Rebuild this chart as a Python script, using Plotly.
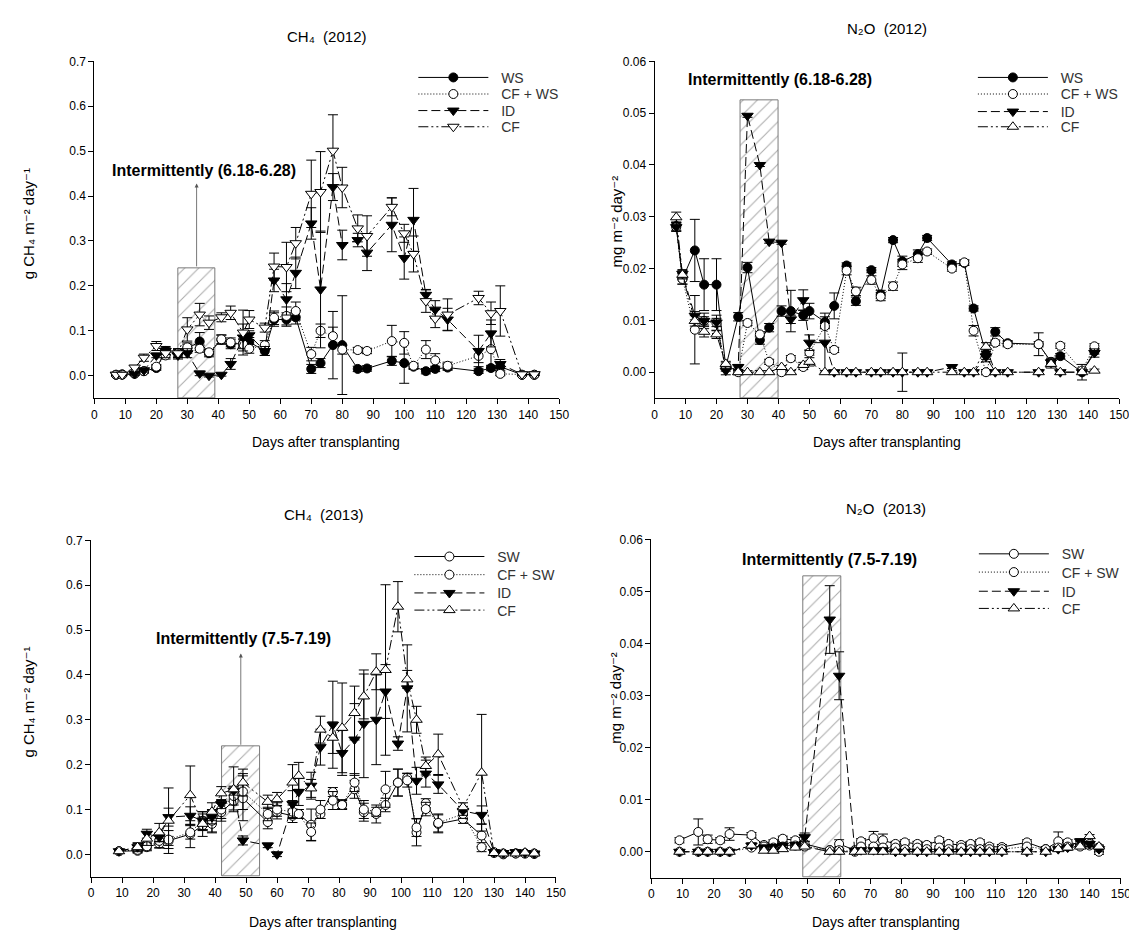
import plotly.graph_objects as go

W, H = 1137, 934
FONT = "Arial, 'Liberation Sans', 'DejaVu Sans', Helvetica, sans-serif"

# ------------------------------------------------------------------ data
# ---- 2012 sampling days (days after transplanting)
days_12 = [7, 9, 13, 16, 20, 23, 27, 30, 34, 37, 41, 44, 48, 50, 55, 58, 62, 65, 70, 73,
           77, 80, 85, 88, 96, 100, 103, 107, 110, 114, 124, 128, 131, 138, 142]

# CH4 2012 (g CH4 m-2 day-1)
ch4_12_ws = [0.002, 0.003, 0.004, 0.010, 0.017, 0.055, 0.050, 0.060, 0.076, 0.050,
             0.080, 0.070, 0.072, 0.075, 0.055, 0.125, 0.125, 0.130, 0.015, 0.028,
             0.068, 0.068, 0.015, 0.016, 0.033, 0.028, 0.020, 0.010, 0.015, 0.018,
             0.010, 0.017, 0.020, 0.002, 0.002]
ch4_12_cfws = [0.002, 0.002, 0.005, 0.010, 0.020, 0.045, 0.050, 0.063, 0.060, 0.052,
               0.081, 0.074, 0.070, 0.060, 0.068, 0.129, 0.133, 0.144, 0.048, 0.100,
               0.088, 0.058, 0.057, 0.055, 0.077, 0.073, 0.022, 0.058, 0.034, 0.022,
               0.044, 0.059, 0.004, 0.002, 0.002]
ch4_12_id = [0.002, 0.002, 0.004, 0.012, 0.045, 0.055, 0.045, 0.050, 0.005, 0.000,
             0.002, 0.026, 0.085, 0.090, 0.055, 0.212, 0.170, 0.229, 0.339, 0.192,
             0.420, 0.291, 0.302, 0.274, 0.336, 0.262, 0.347, 0.180, 0.147, 0.125,
             0.055, 0.094, 0.026, 0.003, 0.003]
ch4_12_cf = [0.002, 0.002, 0.018, 0.040, 0.066, 0.050, 0.050, 0.103, 0.136, 0.118,
             0.130, 0.140, 0.096, 0.125, 0.107, 0.243, 0.242, 0.295, 0.405, 0.409,
             0.501, 0.419, 0.328, 0.311, 0.376, 0.317, 0.271, 0.166, 0.127, 0.136,
             0.173, 0.139, 0.144, 0.003, 0.003]
ch4_12_ws_err = [0.002, 0.002, 0.003, 0.004, 0.005, 0.010, 0.010, 0.010, 0.020, 0.008,
                 0.010, 0.010, 0.010, 0.010, 0.010, 0.015, 0.015, 0.015, 0.010, 0.010,
                 0.075, 0.110, 0.006, 0.006, 0.010, 0.045, 0.006, 0.006, 0.006, 0.006,
                 0.005, 0.006, 0.008, 0.002, 0.002]
ch4_12_cfws_err = [0.002, 0.002, 0.003, 0.004, 0.005, 0.008, 0.008, 0.010, 0.008, 0.006,
                   0.010, 0.010, 0.010, 0.010, 0.010, 0.015, 0.020, 0.020, 0.015, 0.015,
                   0.020, 0.010, 0.006, 0.006, 0.035, 0.025, 0.006, 0.020, 0.015, 0.008,
                   0.015, 0.040, 0.004, 0.002, 0.002]
ch4_12_id_err = [0.002, 0.002, 0.003, 0.004, 0.005, 0.008, 0.008, 0.010, 0.005, 0.003,
                 0.003, 0.012, 0.030, 0.010, 0.010, 0.025, 0.035, 0.035, 0.035, 0.130,
                 0.030, 0.033, 0.015, 0.040, 0.060, 0.047, 0.070, 0.012, 0.020, 0.025,
                 0.035, 0.030, 0.010, 0.002, 0.002]
ch4_12_cf_err = [0.002, 0.002, 0.005, 0.008, 0.010, 0.010, 0.010, 0.026, 0.025, 0.015,
                 0.010, 0.015, 0.050, 0.020, 0.010, 0.030, 0.055, 0.035, 0.075, 0.090,
                 0.080, 0.045, 0.030, 0.045, 0.020, 0.020, 0.040, 0.025, 0.020, 0.035,
                 0.015, 0.025, 0.056, 0.002, 0.002]

# N2O 2012 (mg m-2 day-1)
n2o_12_ws = [0.0282, 0.0180, 0.0235, 0.0169, 0.0169, 0.0010, 0.0107, 0.0202, 0.0062, 0.0086,
             0.0118, 0.0118, 0.0110, 0.0118, 0.0097, 0.0128, 0.0206, 0.0137, 0.0197, 0.0150,
             0.0255, 0.0214, 0.0228, 0.0259, 0.0208, 0.0211, 0.0123, 0.0035, 0.0078, 0.0056,
             0.0054, 0.0020, 0.0031, 0.0000, 0.0040]
n2o_12_cfws = [0.0280, 0.0180, 0.0082, 0.0099, 0.0095, 0.0010, 0.0000, 0.0095, 0.0073, 0.0020,
               0.0000, 0.0027, 0.0010, 0.0038, 0.0089, 0.0043, 0.0196, 0.0156, 0.0178, 0.0146,
               0.0166, 0.0208, 0.0220, 0.0233, 0.0200, 0.0212, 0.0080, 0.0000, 0.0057, 0.0054,
               0.0054, 0.0019, 0.0051, 0.0003, 0.0050]
n2o_12_id = [0.0280, 0.0190, 0.0109, 0.0099, 0.0096, 0.0003, 0.0010, 0.0495, 0.0400, 0.0252,
             0.0250, 0.0102, 0.0139, 0.0057, 0.0057, 0.0000, 0.0000, 0.0000, 0.0000, 0.0000,
             0.0000, 0.0000, 0.0000, 0.0000, 0.0010, 0.0000, 0.0000, 0.0030, 0.0000, 0.0000,
             0.0000, 0.0019, 0.0000, 0.0000, 0.0037]
n2o_12_cf = [0.0299, 0.0188, 0.0099, 0.0078, 0.0073, 0.0016, 0.0000, 0.0000, 0.0000, 0.0000,
             0.0010, 0.0000, 0.0014, 0.0020, 0.0000, 0.0000, 0.0000, 0.0000, 0.0000, 0.0000,
             0.0000, 0.0000, 0.0000, 0.0000, 0.0000, 0.0000, 0.0000, 0.0049, 0.0000, 0.0000,
             0.0000, 0.0016, 0.0000, 0.0000, 0.0003]
n2o_12_ws_err = [0.0008, 0.0010, 0.0060, 0.0050, 0.0050, 0.0008, 0.0008, 0.0010, 0.0008, 0.0008,
                 0.0010, 0.0040, 0.0010, 0.0015, 0.0010, 0.0025, 0.0005, 0.0008, 0.0005, 0.0008,
                 0.0005, 0.0010, 0.0008, 0.0005, 0.0005, 0.0005, 0.0005, 0.0010, 0.0008, 0.0005,
                 0.0005, 0.0005, 0.0005, 0.0015, 0.0005]
n2o_12_cfws_err = [0.0008, 0.0010, 0.0066, 0.0015, 0.0015, 0.0005, 0.0005, 0.0005, 0.0005, 0.0005,
                   0.0005, 0.0005, 0.0005, 0.0005, 0.0005, 0.0005, 0.0008, 0.0008, 0.0008, 0.0008,
                   0.0008, 0.0010, 0.0008, 0.0005, 0.0005, 0.0005, 0.0010, 0.0005, 0.0005, 0.0005,
                   0.0022, 0.0005, 0.0005, 0.0005, 0.0005]
n2o_12_id_err = [0.0008, 0.0008, 0.0008, 0.0008, 0.0008, 0.0008, 0.0005, 0.0003, 0.0003, 0.0003,
                 0.0003, 0.0008, 0.0020, 0.0015, 0.0057, 0.0003, 0.0003, 0.0003, 0.0003, 0.0003,
                 0.0003, 0.0003, 0.0003, 0.0003, 0.0003, 0.0003, 0.0003, 0.0010, 0.0003, 0.0003,
                 0.0003, 0.0008, 0.0003, 0.0003, 0.0008]
n2o_12_cf_err = [0.0010, 0.0008, 0.0010, 0.0010, 0.0008, 0.0005, 0.0003, 0.0003, 0.0003, 0.0003,
                 0.0003, 0.0003, 0.0005, 0.0008, 0.0003, 0.0003, 0.0003, 0.0003, 0.0003, 0.0003,
                 0.0003, 0.0037, 0.0003, 0.0003, 0.0003, 0.0003, 0.0003, 0.0008, 0.0003, 0.0003,
                 0.0003, 0.0008, 0.0003, 0.0003, 0.0003]

# ---- 2013 sampling days
days_13 = [9, 15, 18, 22, 25, 32, 36, 39, 42, 46, 49, 57, 60, 65, 67, 71, 74, 78, 81, 85,
           88, 92, 95, 99, 102, 105, 108, 112, 120, 126, 130, 133, 137, 140, 143]

# CH4 2013
ch4_13_sw = [0.007, 0.008, 0.016, 0.024, 0.030, 0.045, 0.065, 0.068, 0.094, 0.119,
             0.125, 0.072, 0.094, 0.086, 0.090, 0.066, 0.090, 0.139, 0.112, 0.145,
             0.094, 0.090, 0.110, 0.160, 0.171, 0.049, 0.114, 0.068, 0.079, 0.042,
             0.003, 0.000, 0.002, 0.002, 0.001]
ch4_13_cfsw = [0.007, 0.010, 0.018, 0.030, 0.033, 0.049, 0.075, 0.075, 0.100, 0.130,
               0.140, 0.090, 0.100, 0.095, 0.090, 0.050, 0.100, 0.120, 0.110, 0.160,
               0.100, 0.095, 0.145, 0.160, 0.165, 0.060, 0.101, 0.070, 0.090, 0.016,
               0.005, 0.002, 0.002, 0.002, 0.002]
ch4_13_id = [0.007, 0.016, 0.046, 0.038, 0.083, 0.086, 0.075, 0.083, 0.112, 0.142,
             0.031, 0.020, 0.000, 0.112, 0.139, 0.153, 0.239, 0.289, 0.226, 0.256,
             0.291, 0.300, 0.363, 0.247, 0.370, 0.164, 0.180, 0.156, 0.097, 0.088,
             0.005, 0.003, 0.005, 0.003, 0.002]
ch4_13_cf = [0.007, 0.016, 0.035, 0.049, 0.075, 0.132, 0.068, 0.095, 0.136, 0.145,
             0.160, 0.117, 0.123, 0.160, 0.175, 0.147, 0.278, 0.260, 0.282, 0.315,
             0.352, 0.407, 0.411, 0.552, 0.390, 0.300, 0.197, 0.223, 0.105, 0.182,
             0.003, 0.002, 0.002, 0.004, 0.002]
ch4_13_sw_err = [0.003, 0.005, 0.008, 0.010, 0.010, 0.030, 0.025, 0.020, 0.020, 0.020,
                 0.050, 0.015, 0.015, 0.015, 0.010, 0.035, 0.010, 0.010, 0.010, 0.020,
                 0.020, 0.020, 0.015, 0.030, 0.010, 0.030, 0.010, 0.020, 0.010, 0.025,
                 0.002, 0.002, 0.002, 0.002, 0.002]
ch4_13_cfsw_err = [0.003, 0.005, 0.008, 0.015, 0.020, 0.015, 0.020, 0.025, 0.020, 0.020,
                   0.040, 0.015, 0.015, 0.015, 0.010, 0.020, 0.020, 0.020, 0.010, 0.020,
                   0.020, 0.010, 0.040, 0.030, 0.015, 0.020, 0.015, 0.020, 0.010, 0.010,
                   0.002, 0.002, 0.002, 0.002, 0.002]
ch4_13_id_err = [0.003, 0.008, 0.010, 0.010, 0.020, 0.020, 0.020, 0.015, 0.010, 0.010,
                 0.010, 0.005, 0.005, 0.030, 0.030, 0.030, 0.040, 0.097, 0.050, 0.080,
                 0.120, 0.100, 0.060, 0.015, 0.097, 0.030, 0.030, 0.020, 0.010, 0.020,
                 0.002, 0.002, 0.002, 0.002, 0.002]
ch4_13_cf_err = [0.003, 0.010, 0.015, 0.020, 0.073, 0.065, 0.015, 0.020, 0.015, 0.050,
                 0.030, 0.015, 0.015, 0.040, 0.030, 0.020, 0.030, 0.035, 0.100, 0.060,
                 0.050, 0.040, 0.190, 0.056, 0.020, 0.030, 0.020, 0.045, 0.010, 0.130,
                 0.002, 0.002, 0.002, 0.002, 0.002]

# N2O 2013
n2o_13_sw = [0.0022, 0.0038, 0.0024, 0.0022, 0.0034, 0.0032, 0.0013, 0.0018, 0.0025, 0.0022,
             0.0015, 0.0003, 0.0015, 0.0003, 0.0020, 0.0026, 0.0022, 0.0015, 0.0018, 0.0015,
             0.0013, 0.0022, 0.0015, 0.0013, 0.0015, 0.0018, 0.0010, 0.0009, 0.0018, 0.0005,
             0.0020, 0.0018, 0.0015, 0.0012, 0.0000]
n2o_13_cfsw = [0.0000, 0.0000, 0.0000, 0.0000, 0.0000, 0.0008, 0.0010, 0.0008, 0.0010, 0.0012,
               0.0010, 0.0003, 0.0003, 0.0000, 0.0010, 0.0010, 0.0008, 0.0008, 0.0005, 0.0008,
               0.0005, 0.0008, 0.0005, 0.0008, 0.0005, 0.0005, 0.0005, 0.0005, 0.0010, 0.0005,
               0.0008, 0.0010, 0.0010, 0.0015, 0.0008]
n2o_13_id = [0.0000, 0.0000, 0.0000, 0.0000, 0.0000, 0.0012, 0.0008, 0.0009, 0.0012, 0.0013,
             0.0028, 0.0446, 0.0338, 0.0002, 0.0003, 0.0003, 0.0003, 0.0000, 0.0000, 0.0000,
             0.0000, 0.0000, 0.0000, 0.0000, 0.0000, 0.0000, 0.0000, 0.0000, 0.0000, 0.0000,
             0.0005, 0.0008, 0.0020, 0.0015, 0.0005]
n2o_13_cf = [0.0000, 0.0000, 0.0000, 0.0000, 0.0000, 0.0012, 0.0002, 0.0002, 0.0005, 0.0008,
             0.0010, 0.0000, 0.0000, 0.0000, 0.0000, 0.0000, 0.0000, 0.0000, 0.0000, 0.0000,
             0.0000, 0.0000, 0.0000, 0.0000, 0.0000, 0.0000, 0.0000, 0.0000, 0.0000, 0.0000,
             0.0005, 0.0008, 0.0010, 0.0030, 0.0010]
n2o_13_sw_err = [0.0005, 0.0025, 0.0008, 0.0005, 0.0012, 0.0005, 0.0005, 0.0005, 0.0005, 0.0005,
                 0.0005, 0.0003, 0.0008, 0.0003, 0.0005, 0.0013, 0.0012, 0.0005, 0.0005, 0.0005,
                 0.0005, 0.0005, 0.0005, 0.0005, 0.0005, 0.0005, 0.0005, 0.0005, 0.0005, 0.0005,
                 0.0018, 0.0005, 0.0005, 0.0005, 0.0005]
n2o_13_cfsw_err = [0.0003] * 35
n2o_13_id_err = [0.0003, 0.0003, 0.0003, 0.0003, 0.0003, 0.0005, 0.0005, 0.0005, 0.0005, 0.0005,
                 0.0008, 0.0065, 0.0046, 0.0003, 0.0003, 0.0003, 0.0003, 0.0003, 0.0003, 0.0003,
                 0.0003, 0.0003, 0.0003, 0.0003, 0.0003, 0.0003, 0.0003, 0.0003, 0.0003, 0.0003,
                 0.0003, 0.0005, 0.0005, 0.0005, 0.0005]
n2o_13_cf_err = [0.0003] * 35

# intermittent irrigation periods: [start day, end day, box top]
period_ch4_12 = [27.0, 39.0, 0.24]
period_n2o_12 = [27.7, 39.9, 0.0524]
period_ch4_13 = [42.2, 54.4, 0.241]
period_n2o_13 = [48.6, 60.7, 0.0529]

x_ticks = list(range(0, 151, 10))

# text labels
TITLE_CH4_12 = "CH\u2084  (2012)"
TITLE_N2O_12 = "N\u2082O  (2012)"
TITLE_CH4_13 = "CH\u2084  (2013)"
TITLE_N2O_13 = "N\u2082O  (2013)"
YLAB_CH4 = "g CH\u2084 m\u207b\u00b2 day\u207b\u00b9"
YLAB_N2O = "mg m\u207b\u00b2 day\u207b\u00b2"
XLAB = "Days after transplanting"

# ------------------------------------------------------------------ layout helpers
def px_x(p):
    return p / W


def px_y(p):
    return 1 - p / H


fig = go.Figure()

LINE_DASH = {
    "solid": "solid",
    "dot": "1px,2px",
    "dash": "9px,4px",
    "dashdotdot": "10px,3px,2px,3px,2px,3px",
}

NBSP = "\u00a0\u00a0"   # small gap between legend line sample and label
legend_defs = {}


def leg(xp, yp):
    return dict(x=px_x(xp), y=px_y(yp), xanchor="left", yanchor="middle",
                bgcolor="rgba(0,0,0,0)", borderwidth=0, itemwidth=70,
                tracegroupgap=0, font=dict(size=14, color="#333333", family=FONT))


def add_period(xa, ya, period, ybase):
    start, end, top = period
    fig.add_trace(go.Bar(
        x=[(start + end) / 2], y=[top - ybase], base=[ybase], width=[end - start],
        marker=dict(color="white", line=dict(color="#7a7a7a", width=1),
                    pattern=dict(shape="/", fgcolor="#555555", bgcolor="white",
                                 size=10, solidity=0.1)),
        showlegend=False, hoverinfo="skip", xaxis=xa, yaxis=ya))


def add_series(xa, ya, legpos, days, vals, errs, name, symbol, fill, dash, size=9):
    lid = "legend" if not legend_defs else "legend%d" % (len(legend_defs) + 1)
    legend_defs[lid] = leg(*legpos)
    fig.add_trace(go.Scatter(
        x=days, y=vals, mode="lines+markers", name=NBSP + name,
        line=dict(color="black", width=1, dash=LINE_DASH[dash]),
        marker=dict(symbol=symbol, size=size, color=fill,
                    line=dict(color="black", width=1)),
        error_y=dict(type="data", array=errs, visible=True, color="black",
                     thickness=1, width=5),
        xaxis=xa, yaxis=ya, legend=lid, cliponaxis=False))


# legend row positions (pixels): left edge of entry, row centre
LX_TL, LX_TR, LX_BL, LX_BR = 407, 973, 403, 974
ROWS_TOP = [63.3, 80.0, 96.7, 113.0]
ROWS_BL = [546.0, 564.3, 582.7, 600.0]
ROWS_BR = [543.3, 561.7, 581.0, 598.3]

# ---- CH4 2012
add_period("x", "y", period_ch4_12, -0.05)
add_series("x", "y", (LX_TL, ROWS_TOP[0]), days_12, ch4_12_ws, ch4_12_ws_err, "WS", "circle", "black", "solid")
add_series("x", "y", (LX_TL, ROWS_TOP[1]), days_12, ch4_12_cfws, ch4_12_cfws_err, "CF + WS", "circle", "white", "dot")
add_series("x", "y", (LX_TL, ROWS_TOP[2]), days_12, ch4_12_id, ch4_12_id_err, "ID", "triangle-down", "black", "dash", 10)
add_series("x", "y", (LX_TL, ROWS_TOP[3]), days_12, ch4_12_cf, ch4_12_cf_err, "CF", "triangle-down", "white", "dashdotdot", 10)

# ---- N2O 2012
add_period("x2", "y2", period_n2o_12, -0.005)
add_series("x2", "y2", (LX_TR, ROWS_TOP[0]), days_12, n2o_12_ws, n2o_12_ws_err, "WS", "circle", "black", "solid")
add_series("x2", "y2", (LX_TR, ROWS_TOP[1]), days_12, n2o_12_cfws, n2o_12_cfws_err, "CF + WS", "circle", "white", "dot")
add_series("x2", "y2", (LX_TR, ROWS_TOP[2] + 1), days_12, n2o_12_id, n2o_12_id_err, "ID", "triangle-down", "black", "dash", 10)
add_series("x2", "y2", (LX_TR, ROWS_TOP[3]), days_12, n2o_12_cf, n2o_12_cf_err, "CF", "triangle-up", "white", "dashdotdot", 10)

# ---- CH4 2013
add_period("x3", "y3", period_ch4_13, -0.05)
add_series("x3", "y3", (LX_BL, ROWS_BL[0]), days_13, ch4_13_sw, ch4_13_sw_err, "SW", "circle", "white", "solid")
add_series("x3", "y3", (LX_BL, ROWS_BL[1]), days_13, ch4_13_cfsw, ch4_13_cfsw_err, "CF + SW", "circle", "white", "dot")
add_series("x3", "y3", (LX_BL, ROWS_BL[2]), days_13, ch4_13_id, ch4_13_id_err, "ID", "triangle-down", "black", "dash", 10)
add_series("x3", "y3", (LX_BL, ROWS_BL[3]), days_13, ch4_13_cf, ch4_13_cf_err, "CF", "triangle-up", "white", "dashdotdot", 10)

# ---- N2O 2013
add_period("x4", "y4", period_n2o_13, -0.005)
add_series("x4", "y4", (LX_BR, ROWS_BR[0]), days_13, n2o_13_sw, n2o_13_sw_err, "SW", "circle", "white", "solid")
add_series("x4", "y4", (LX_BR, ROWS_BR[1]), days_13, n2o_13_cfsw, n2o_13_cfsw_err, "CF + SW", "circle", "white", "dot")
add_series("x4", "y4", (LX_BR, ROWS_BR[2]), days_13, n2o_13_id, n2o_13_id_err, "ID", "triangle-down", "black", "dash", 10)
add_series("x4", "y4", (LX_BR, ROWS_BR[3]), days_13, n2o_13_cf, n2o_13_cf_err, "CF", "triangle-up", "white", "dashdotdot", 10)

# ------------------------------------------------------------------ axes
panels = {
    "1": dict(xd=(84.3, 554.5), yd=(46.7, 386.0), yr=[-0.05, 0.7], dt=0.1, fmt=".1f"),
    "2": dict(xd=(651.0, 1121.0), yd=(46.7, 386.0), yr=[-0.005, 0.06], dt=0.01, fmt=".2f"),
    "3": dict(xd=(81.0, 551.3), yd=(529.3, 868.3), yr=[-0.05, 0.7], dt=0.1, fmt=".1f"),
    "4": dict(xd=(647.7, 1122.7), yd=(528.3, 869.3), yr=[-0.005, 0.06], dt=0.01, fmt=".2f"),
}

axis_common = dict(showline=True, linecolor="black", linewidth=1, ticks="outside",
                   ticklen=5, tickwidth=1, tickcolor="black", showgrid=False,
                   zeroline=False, tickfont=dict(size=12, color="black"))

layout_axes = {}
for k, p in panels.items():
    suffix = "" if k == "1" else k
    layout_axes["xaxis" + suffix] = dict(
        domain=[px_x(p["xd"][0]), px_x(p["xd"][1])], anchor="y" + suffix,
        range=[0, 150], tickmode="array", tickvals=x_ticks, **axis_common)
    layout_axes["yaxis" + suffix] = dict(
        domain=[px_y(p["yd"][1]), px_y(p["yd"][0])], anchor="x" + suffix,
        range=p["yr"], tick0=0, dtick=p["dt"], tickformat=p["fmt"], **axis_common)

# ------------------------------------------------------------------ annotations
ann = []


def text(xp, yp, t, size=14, angle=0, color="black"):
    ann.append(dict(x=px_x(xp), y=px_y(yp), xref="paper", yref="paper", text=t,
                    showarrow=False, textangle=angle, xanchor="center", yanchor="middle",
                    font=dict(size=size, color=color, family=FONT)))


# panel titles
text(319, 22, TITLE_CH4_12, 15)
text(886, 14, TITLE_N2O_12, 15)
text(316, 503, TITLE_CH4_13, 15)
text(885, 497, TITLE_N2O_13, 15)
# axis titles
for cx, cy in [(319, 430), (886, 430), (316, 914), (885, 914)]:
    text(cx, cy, XLAB, 14)
text(18, 210, YLAB_CH4, 15, angle=-90)
text(18, 692, YLAB_CH4, 15, angle=-90)
text(612, 208, YLAB_N2O, 15, angle=-90)
text(612, 688, YLAB_N2O, 15, angle=-90)


# intermittent labels (data coords)
def period_label(xa, ya, xc, yc, t):
    ann.append(dict(x=xc, y=yc, xref=xa, yref=ya, text=t, showarrow=False,
                    xanchor="center", yanchor="middle",
                    font=dict(size=16, color="black", family=FONT, weight="bold")))


def period_arrow(xa, ya, xc, y0, y1):
    ann.append(dict(x=xc, y=y1, ax=xc, ay=y0, xref=xa, yref=ya, axref=xa, ayref=ya,
                    text="", showarrow=True, arrowhead=2, arrowsize=1, arrowwidth=0.8,
                    arrowcolor="#555555"))


period_label("x", "y", 35.5, 0.457, "Intermittently (6.18-6.28)")
period_arrow("x", "y", 33.0, period_ch4_12[2], 0.428)
period_label("x2", "y2", 40.4, 0.0565, "Intermittently (6.18-6.28)")
period_label("x3", "y3", 49.2, 0.481, "Intermittently (7.5-7.19)")
period_arrow("x3", "y3", 48.3, period_ch4_13[2], 0.448)
period_label("x4", "y4", 57.0, 0.0562, "Intermittently (7.5-7.19)")

fig.update_layout(
    width=W, height=H, margin=dict(l=0, r=0, t=0, b=0),
    plot_bgcolor="white", paper_bgcolor="white",
    font=dict(family=FONT, size=12, color="black"),
    annotations=ann, showlegend=True, bargap=0,
    **legend_defs,
    **layout_axes,
)

fig.write_html("out.html")
